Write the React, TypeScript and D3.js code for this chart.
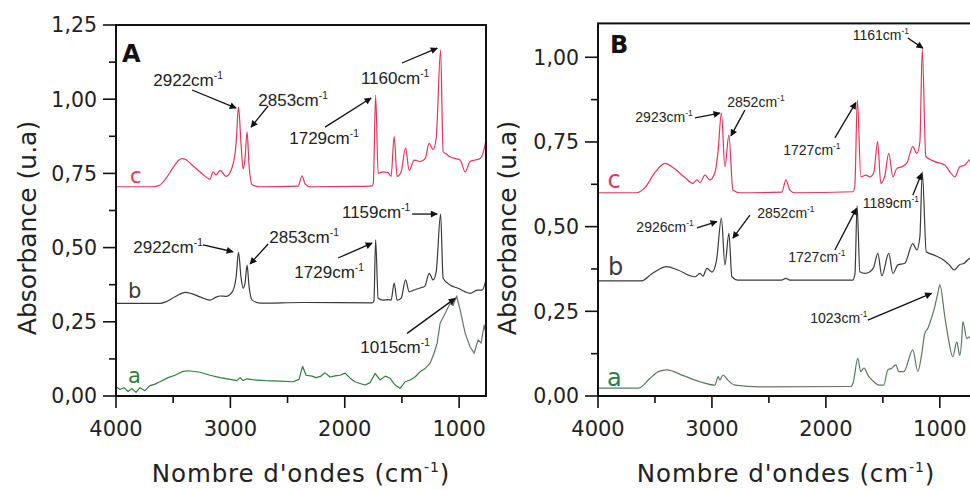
import React from "react";
import * as d3 from "d3";

type Pt = [number, number];

// ---------- axes ----------
const xTicksMajor = [4000, 3000, 2000, 1000];
const xTickLabels = ["4000", "3000", "2000", "1000"];
const xTicksMinor = [3500, 2500, 1500];
const yTicksA = [0, 0.25, 0.5, 0.75, 1.0, 1.25];
const yTickLabelsA = ["0,00", "0,25", "0,50", "0,75", "1,00", "1,25"];
const yMinorA = [0.125, 0.375, 0.625, 0.875, 1.125];
const yTicksB = [0, 0.25, 0.5, 0.75, 1.0];
const yTickLabelsB = ["0,00", "0,25", "0,50", "0,75", "1,00"];
const yMinorB = [0.125, 0.375, 0.625, 0.875];

// ---------- panel A spectra [wavenumber, absorbance] ----------
const specA_c: Pt[] = [
  [4000, 0.705], [3676, 0.705], [3620, 0.71], [3560, 0.735], [3500, 0.77], [3450, 0.795], [3423, 0.8],
  [3390, 0.797], [3340, 0.78], [3280, 0.76], [3220, 0.74], [3178, 0.73], [3152, 0.755], [3125, 0.745],
  [3090, 0.76], [3038, 0.74], [2985, 0.77], [2950, 0.85], [2929, 0.973], [2907, 0.85], [2889, 0.765],
  [2872, 0.8], [2854, 0.89], [2837, 0.78], [2810, 0.712], [2740, 0.705], [2408, 0.707], [2373, 0.742],
  [2347, 0.715], [2303, 0.705], [1900, 0.706], [1760, 0.708], [1750, 0.72], [1730, 1.014], [1708, 0.75],
  [1665, 0.755], [1621, 0.752], [1595, 0.74], [1568, 0.874], [1542, 0.74], [1507, 0.755], [1468, 0.836],
  [1437, 0.76], [1393, 0.795], [1341, 0.79], [1297, 0.8], [1262, 0.851], [1227, 0.83], [1200, 0.87],
  [1162, 1.166], [1140, 0.823], [1110, 0.815], [1079, 0.806], [1030, 0.8], [991, 0.795], [947, 0.755],
  [904, 0.79], [860, 0.795], [816, 0.8], [790, 0.82], [765, 0.862],
];
const specA_b: Pt[] = [
  [4000, 0.312], [3615, 0.312], [3560, 0.318], [3480, 0.335], [3396, 0.349], [3340, 0.345], [3260, 0.333],
  [3178, 0.323], [3125, 0.333], [3090, 0.337], [3038, 0.336], [2985, 0.35], [2950, 0.4], [2929, 0.484],
  [2907, 0.4], [2889, 0.363], [2872, 0.38], [2854, 0.441], [2837, 0.37], [2810, 0.323], [2740, 0.313],
  [2370, 0.315], [1760, 0.314], [1745, 0.32], [1730, 0.526], [1708, 0.329], [1665, 0.323], [1621, 0.325],
  [1595, 0.323], [1568, 0.38], [1542, 0.323], [1507, 0.33], [1468, 0.391], [1437, 0.351], [1393, 0.357],
  [1341, 0.364], [1300, 0.37], [1262, 0.413], [1227, 0.391], [1200, 0.42], [1162, 0.613], [1140, 0.397],
  [1079, 0.374], [1010, 0.363], [947, 0.351], [904, 0.346], [843, 0.357], [799, 0.357], [765, 0.391],
];
const specA_a: Pt[] = [
  [4000, 0.031], [3965, 0.022], [3930, 0.028], [3895, 0.015], [3860, 0.025], [3825, 0.012], [3790, 0.028],
  [3746, 0.018], [3703, 0.035], [3659, 0.04], [3615, 0.048], [3545, 0.062], [3484, 0.07], [3423, 0.082],
  [3370, 0.085], [3265, 0.08], [3178, 0.07], [3090, 0.062], [3003, 0.056], [2942, 0.052], [2915, 0.062],
  [2889, 0.052], [2854, 0.058], [2810, 0.055], [2697, 0.052], [2566, 0.05], [2452, 0.048], [2400, 0.056],
  [2369, 0.1], [2338, 0.07], [2286, 0.067], [2251, 0.062], [2216, 0.065], [2172, 0.078], [2128, 0.064],
  [2085, 0.068], [2041, 0.07], [1997, 0.077], [1953, 0.06], [1910, 0.048], [1866, 0.042], [1822, 0.037],
  [1778, 0.045], [1735, 0.076], [1691, 0.054], [1647, 0.067], [1604, 0.06], [1560, 0.037], [1516, 0.026],
  [1472, 0.048], [1428, 0.054], [1385, 0.064], [1341, 0.082], [1297, 0.093], [1254, 0.11], [1219, 0.144],
  [1192, 0.178], [1166, 0.245], [1122, 0.279], [1079, 0.312], [1053, 0.305], [1022, 0.337], [991, 0.29],
  [947, 0.211], [904, 0.166], [869, 0.144], [834, 0.189], [808, 0.178], [781, 0.239], [765, 0.212],
];

// ---------- panel B spectra ----------
const specB_c: Pt[] = [
  [4000, 0.6], [3661, 0.6], [3588, 0.615], [3500, 0.66], [3412, 0.687], [3325, 0.67], [3237, 0.645],
  [3167, 0.628], [3132, 0.638], [3105, 0.63], [3061, 0.652], [3018, 0.638], [2974, 0.66], [2947, 0.72],
  [2917, 0.835], [2886, 0.677], [2851, 0.77], [2816, 0.608], [2755, 0.6], [2386, 0.602], [2351, 0.638],
  [2316, 0.608], [2272, 0.6], [1763, 0.603], [1746, 0.62], [1724, 0.874], [1693, 0.647], [1649, 0.652],
  [1614, 0.647], [1579, 0.66], [1546, 0.751], [1518, 0.628], [1483, 0.65], [1448, 0.716], [1412, 0.647],
  [1377, 0.672], [1333, 0.677], [1289, 0.688], [1237, 0.736], [1202, 0.716], [1175, 0.75], [1154, 1.024],
  [1123, 0.707], [1044, 0.692], [956, 0.682], [912, 0.662], [868, 0.647], [825, 0.677], [781, 0.682],
  [737, 0.697], [700, 0.7],
];
const specB_b: Pt[] = [
  [4000, 0.34], [3617, 0.34], [3530, 0.36], [3397, 0.382], [3300, 0.372], [3149, 0.352], [3105, 0.362],
  [3079, 0.354], [3044, 0.377], [3000, 0.366], [2960, 0.4], [2917, 0.525], [2886, 0.387], [2851, 0.48],
  [2825, 0.352], [2772, 0.342], [2390, 0.342], [2351, 0.347], [2316, 0.342], [1765, 0.342], [1745, 0.36],
  [1726, 0.562], [1702, 0.367], [1658, 0.362], [1614, 0.367], [1580, 0.38], [1544, 0.421], [1509, 0.355],
  [1448, 0.421], [1412, 0.362], [1368, 0.387], [1307, 0.392], [1237, 0.45], [1202, 0.431], [1175, 0.47],
  [1154, 0.662], [1119, 0.426], [1049, 0.416], [961, 0.4], [917, 0.387], [874, 0.372], [830, 0.387],
  [786, 0.392], [737, 0.407], [700, 0.41],
];
const specB_a: Pt[] = [
  [4000, 0.023], [3646, 0.023], [3550, 0.05], [3470, 0.072], [3397, 0.077], [3250, 0.06], [3105, 0.042],
  [2974, 0.032], [2945, 0.057], [2930, 0.047], [2904, 0.062], [2860, 0.047], [2798, 0.032], [2579, 0.027],
  [1780, 0.028], [1760, 0.04], [1720, 0.111], [1694, 0.072], [1667, 0.082], [1623, 0.057], [1579, 0.042],
  [1535, 0.032], [1492, 0.032], [1457, 0.077], [1421, 0.082], [1386, 0.092], [1360, 0.072], [1316, 0.072],
  [1237, 0.136], [1193, 0.072], [1158, 0.126], [1132, 0.185], [1105, 0.2], [1088, 0.215], [1044, 0.264],
  [1018, 0.303], [1000, 0.328], [956, 0.234], [930, 0.18], [886, 0.116], [851, 0.16], [825, 0.12],
  [807, 0.17], [798, 0.22], [763, 0.17], [737, 0.175], [700, 0.18],
];

// ---------- annotations: label, text centre (w, v), arrow tail, arrow tip ----------
type Annot = { t: string; tw: number; tv: number; w1: number; v1: number; w2: number; v2: number };
const annotA: Annot[] = [
  { t: "2922", tw: 3370, tv: 1.065, w1: 3335, v1: 1.031, w2: 2950, v2: 0.97 },
  { t: "2853", tw: 2452, tv: 0.997, w1: 2670, v1: 0.977, w2: 2819, v2: 0.906 },
  { t: "1729", tw: 2181, tv: 0.869, w1: 2172, v1: 0.906, w2: 1770, v2: 1.004 },
  { t: "1160", tw: 1560, tv: 1.071, w1: 1499, v1: 1.122, w2: 1192, v2: 1.172 },
  { t: "2922", tw: 3545, tv: 0.502, w1: 3239, v1: 0.509, w2: 2977, v2: 0.486 },
  { t: "2853", tw: 2356, tv: 0.536, w1: 2670, v1: 0.512, w2: 2828, v2: 0.445 },
  { t: "1729", tw: 2137, tv: 0.419, w1: 2058, v1: 0.465, w2: 1761, v2: 0.515 },
  { t: "1159", tw: 1726, tv: 0.621, w1: 1411, v1: 0.613, w2: 1192, v2: 0.613 },
  { t: "1015", tw: 1560, tv: 0.166, w1: 1455, v1: 0.211, w2: 1035, v2: 0.329 },
];
const annotB: Annot[] = [
  { t: "2923", tw: 3421, tv: 0.825, w1: 3149, v1: 0.821, w2: 2930, v2: 0.835 },
  { t: "2852", tw: 2614, tv: 0.869, w1: 2711, v1: 0.844, w2: 2833, v2: 0.768 },
  { t: "1727", tw: 2123, tv: 0.726, w1: 1921, v1: 0.762, w2: 1737, v2: 0.866 },
  { t: "1161", tw: 1518, tv: 1.066, w1: 1281, v1: 1.057, w2: 1149, v2: 1.027 },
  { t: "2926", tw: 3412, tv: 0.5, w1: 3132, v1: 0.496, w2: 2956, v2: 0.515 },
  { t: "2852", tw: 2351, tv: 0.539, w1: 2667, v1: 0.534, w2: 2816, v2: 0.466 },
  { t: "1189", tw: 1430, tv: 0.569, w1: 1237, v1: 0.593, w2: 1160, v2: 0.657 },
  { t: "1727", tw: 2079, tv: 0.411, w1: 1921, v1: 0.431, w2: 1731, v2: 0.554 },
  { t: "1023", tw: 1886, tv: 0.229, w1: 1632, v1: 0.224, w2: 1073, v2: 0.303 },
];

// series label anchors (w, baseline v)
const seriesNames = ["c", "b", "a"];
const seriesLabelPosA: Pt[] = [[3878, 0.718], [3895, 0.33], [3895, 0.044]];
const seriesLabelPosB: Pt[] = [[3917, 0.614], [3912, 0.357], [3921, 0.03]];
const panelLetters = ["A", "B"];
const panelLetterPos: Pt[] = [[3948, 1.125], [3895, 1.013]];

const RED = "#e2365c";
const DARK = "#3a3a3a";
const GREEN = "#2f7d3f";
const FONT = "'DejaVu Sans', Verdana, sans-serif";
const AFONT = "'Liberation Sans', Arial, sans-serif";

type PanelProps = {
  id: string;
  x0: number; x1: number; yBot: number; yTop: number;
  xDom: [number, number]; yMax: number;
  yTicks: number[]; yLabels: string[]; yMinor: number[];
  series: { data: Pt[]; color: string; curve: any }[];
  annots: Annot[]; annFont: number;
  labelPos: Pt[]; labelColors: string[]; labFont: number;
  letter: string; letterPos: Pt;
  titleX: number;
};

function Panel(p: PanelProps) {
  const x = d3.scaleLinear().domain(p.xDom).range([p.x0, p.x1]);
  const y = d3.scaleLinear().domain([0, p.yMax]).range([p.yBot, p.yTop]);
  const cx = (p.x0 + p.x1) / 2;
  const sup = Math.round(p.annFont * 0.42);
  return (
    <g>
      <defs>
        <clipPath id={`clip-${p.id}`}>
          <rect x={p.x0} y={p.yTop} width={p.x1 - p.x0} height={p.yBot - p.yTop} />
        </clipPath>
      </defs>
      <g clipPath={`url(#clip-${p.id})`}>
        {p.series.map((s, i) => {
          const line = d3.line<Pt>().x((d) => x(d[0])).y((d) => y(d[1])).curve(s.curve);
          return <path key={i} d={line(s.data) || ""} fill="none" stroke={s.color} strokeWidth={1.2} strokeLinejoin="round" />;
        })}
      </g>
      <rect x={p.x0} y={p.yTop} width={p.x1 - p.x0} height={p.yBot - p.yTop} fill="none" stroke="#111" strokeWidth={2} />
      {/* y ticks */}
      {p.yTicks.map((t, i) => (
        <g key={`yt${i}`}>
          <line x1={p.x0 - 13} x2={p.x0} y1={y(t)} y2={y(t)} stroke="#111" strokeWidth={1.6} />
          <text x={p.x0 - 19} y={y(t) + 7.3} textAnchor="end" fontSize={20.5} fontFamily={FONT} fill="#222">
            {p.yLabels[i]}
          </text>
        </g>
      ))}
      {p.yMinor.map((t, i) => (
        <line key={`ym${i}`} x1={p.x0 - 7} x2={p.x0} y1={y(t)} y2={y(t)} stroke="#111" strokeWidth={1.6} />
      ))}
      {/* x ticks */}
      {xTicksMajor.map((t, i) => (
        <g key={`xt${i}`}>
          <line x1={x(t)} x2={x(t)} y1={p.yBot} y2={p.yBot + 12} stroke="#111" strokeWidth={1.6} />
          <text x={x(t)} y={p.yBot + 40} textAnchor="middle" fontSize={21} fontFamily={FONT} fill="#222">
            {xTickLabels[i]}
          </text>
        </g>
      ))}
      {xTicksMinor.map((t, i) => (
        <line key={`xm${i}`} x1={x(t)} x2={x(t)} y1={p.yBot} y2={p.yBot + 7} stroke="#111" strokeWidth={1.6} />
      ))}
      {/* axis titles */}
      <text x={cx} y={482} textAnchor="middle" fontSize={24.5} letterSpacing={0.9} fontFamily={FONT} fill="#222">
        <tspan>Nombre d'ondes (cm</tspan>
        <tspan dy={-10} fontSize={14}>-1</tspan>
        <tspan dy={10}>)</tspan>
      </text>
      <text
        transform={`translate(${p.titleX},228) rotate(-90)`}
        textAnchor="middle" fontSize={25} fontFamily={FONT} fill="#222"
      >
        Absorbance (u.a)
      </text>
      {/* panel letter */}
      <text x={x(p.letterPos[0])} y={y(p.letterPos[1])} fontSize={24} fontWeight="bold" fontFamily={FONT} fill="#111">
        {p.letter}
      </text>
      {/* series labels */}
      {p.labelPos.map((lp, i) => (
        <text key={`sl${i}`} x={x(lp[0])} y={y(lp[1])} fontSize={p.labFont} fontFamily={FONT} fill={p.labelColors[i]}>
          {seriesNames[i]}
        </text>
      ))}
      {/* annotations */}
      {p.annots.map((a, i) => (
        <g key={`an${i}`}>
          <line
            x1={x(a.w1)} y1={y(a.v1)} x2={x(a.w2)} y2={y(a.v2)}
            stroke="#111" strokeWidth={1.3} markerEnd="url(#arrowhead)"
          />
          <text x={x(a.tw)} y={y(a.tv)} dy="0.36em" textAnchor="middle" fontSize={p.annFont} fontFamily={AFONT} fill="#222">
            <tspan>{a.t}cm</tspan>
            <tspan dy={-sup} fontSize={p.annFont * 0.6}>-1</tspan>
          </text>
        </g>
      ))}
    </g>
  );
}

export default function App() {
  return (
    <svg
      width={970}
      height={490}
      style={{ position: "absolute", left: 0, top: 0, background: "#fff" }}
      xmlns="http://www.w3.org/2000/svg"
    >
      <defs>
        <marker id="arrowhead" viewBox="0 0 10 10" refX={9} refY={5} markerWidth={9} markerHeight={7}
          markerUnits="userSpaceOnUse" orient="auto">
          <path d="M0,0 L10,5 L0,10 z" fill="#111" />
        </marker>
        <linearGradient id="gradA" gradientUnits="userSpaceOnUse" x1={415} y1={0} x2={445} y2={0}>
          <stop offset="0" stopColor={GREEN} />
          <stop offset="1" stopColor="#6a736b" />
        </linearGradient>
      </defs>
      <rect x={0} y={0} width={970} height={490} fill="#fff" />
      <Panel
        id="A" x0={116} x1={486} yBot={396} yTop={25} xDom={[4000, 765]} yMax={1.25}
        yTicks={yTicksA} yLabels={yTickLabelsA} yMinor={yMinorA}
        series={[
          { data: specA_a, color: "url(#gradA)", curve: d3.curveLinear },
          { data: specA_b, color: DARK, curve: d3.curveMonotoneX },
          { data: specA_c, color: RED, curve: d3.curveMonotoneX },
        ]}
        annots={annotA} annFont={17}
        labelPos={seriesLabelPosA} labelColors={[RED, DARK, GREEN]} labFont={21}
        letter={panelLetters[0]} letterPos={panelLetterPos[0]} titleX={36}
      />
      <Panel
        id="B" x0={598} x1={974} yBot={396} yTop={23.4} xDom={[4000, 700]} yMax={1.1}
        yTicks={yTicksB} yLabels={yTickLabelsB} yMinor={yMinorB}
        series={[
          { data: specB_a, color: "#5a7a5e", curve: d3.curveMonotoneX },
          { data: specB_b, color: DARK, curve: d3.curveMonotoneX },
          { data: specB_c, color: RED, curve: d3.curveMonotoneX },
        ]}
        annots={annotB} annFont={14}
        labelPos={seriesLabelPosB} labelColors={[RED, DARK, "#2e7d4f"]} labFont={24}
        letter={panelLetters[1]} letterPos={panelLetterPos[1]} titleX={516}
      />
    </svg>
  );
}
